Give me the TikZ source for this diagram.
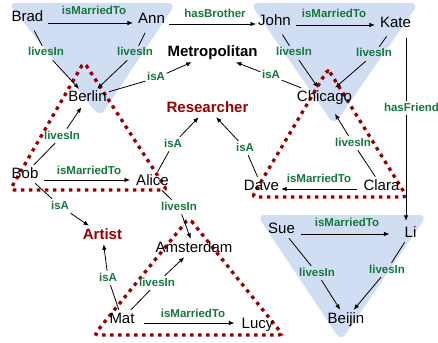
\documentclass[tikz,border=0pt]{standalone}
\usepackage{fontspec}
\setmainfont{Liberation Sans}
\usetikzlibrary{arrows.meta,calc}
\definecolor{lblgreen}{RGB}{20,120,60}
\definecolor{darkred}{RGB}{150,0,0}
\definecolor{lightblue}{RGB}{208,221,242}
\begin{document}
\begin{tikzpicture}[x=1pt,y=-1pt,
  ent/.style={font=\fontsize{15}{17}\selectfont, inner sep=2pt, text height=11pt, text depth=3pt},
  cat/.style={font=\bfseries\fontsize{15}{17}\selectfont, inner sep=2pt, text height=11pt, text depth=3pt},
  lab/.style={font=\bfseries\fontsize{11.5}{13}\selectfont, text=lblgreen, inner sep=1.5pt, text height=8.5pt, text depth=2.5pt},
  arr/.style={-{Latex[length=5.5pt,width=4.5pt]}, line width=0.8pt},
  ln/.style={line width=0.8pt},
  tri/.style={fill=lightblue, rounded corners=8pt},
  grp/.style={draw=darkred, line width=3.3pt, dash pattern=on 3.5pt off 4.5pt, rounded corners=4pt}]
\useasboundingbox (0,0) rectangle (438,342);

% blue groups
\path[tri] (8,3) -- (176,3) -- (100,117) -- cycle;
\path[tri] (250,3) -- (419,3) -- (334,125) -- cycle;
\path[tri] (257,215) -- (427,215) -- (341,341) -- cycle;

% red dotted groups
\draw[grp] (84,62) -- (167,190) -- (10,190) -- cycle;
\draw[grp] (328,69) -- (407,197) -- (252,197) -- cycle;
\draw[grp] (189,218) -- (283,335) -- (94,335) -- cycle;

% entities
\node[ent] (brad) at (27.5,18) {Brad};
\node[ent] (ann) at (151.5,20) {Ann};
\node[ent] (john) at (274.5,22) {John};
\node[ent] (kate) at (395.5,24) {Kate};
\node[cat] (metro) at (212.5,53) {Metropolitan};
\node[ent] (berlin) at (87.5,98) {Berlin};
\node[ent] (chicago) at (324.5,97) {Chicago};
\node[cat,text=darkred] (res) at (207.5,108) {Researcher};
\node[ent] (bob) at (25,174) {Bob};
\node[ent] (alice) at (152.5,181) {Alice};
\node[ent] (dave) at (261.5,186) {Dave};
\node[ent] (clara) at (381.5,186) {Clara};
\node[cat,text=darkred] (artist) at (102.5,235) {Artist};
\node[ent] (amst) at (194,248) {Amsterdam};
\node[ent] (sue) at (281.5,229) {Sue};
\node[ent] (li) at (410.5,233) {Li};
\node[ent] (beijin) at (346,319) {Beijin};
\node[ent] (mat) at (122,319) {Mat};
\node[ent] (lucy) at (257.5,324) {Lucy};

% horizontal relations
\node[lab] (m1) at (94,12) {isMarriedTo};
\draw[arr] ([xshift=2pt]brad.east |- 0,23) -- ([xshift=-3pt]ann.west |- 0,23);
\node[lab] (hb) at (215,15) {hasBrother};
\draw[arr] ([xshift=2pt]ann.east |- 0,24) -- (john.west |- 0,24);
\node[lab] (m2) at (334,15) {isMarriedTo};
\draw[arr] ([xshift=3pt]john.east |- 0,25) -- ([xshift=-3pt]kate.west |- 0,25);
\node[lab] (m3) at (89,171) {isMarriedTo};
\draw[arr] ([xshift=3pt]bob.east |- 0,180) -- ([xshift=-4pt]alice.west |- 0,180);
\node[lab] (m4) at (319,179) {isMarriedTo};
\draw[arr] ([xshift=-4pt]clara.west |- 0,189) -- (dave.east |- 0,189);
\node[lab] (m5) at (193,314) {isMarriedTo};
\draw[arr] ([xshift=7pt]mat.east |- 0,323) -- ([xshift=-5pt]lucy.west |- 0,323);
\node[lab] (m6) at (347,223) {isMarriedTo};
\draw[arr] ([xshift=4pt]sue.east |- 0,234) -- ([xshift=-13pt]li.west |- 0,234);

% diagonal relations (label splits the line)
\node[lab] (l1) at (46,53) {livesIn};
\draw[ln,shorten <=4pt] (brad) -- (l1); \draw[arr] (l1) -- (berlin);
\node[lab] (l2) at (135,53) {livesIn};
\draw[ln,shorten <=4pt] (ann) -- (l2); \draw[arr] (l2) -- (berlin);
\node[lab] (l3) at (294,53) {livesIn};
\draw[ln,shorten <=4pt] (john) -- (l3); \draw[arr] (l3) -- (chicago);
\node[lab] (l4) at (374,54) {livesIn};
\draw[ln,shorten <=4pt] (kate) -- (l4); \draw[arr] (l4) -- (chicago);
\node[lab] (l5) at (156,78) {isA};
\draw[ln] (berlin) -- (l5); \draw[arr] (l5) -- (metro);
\node[lab] (l6) at (271,76) {isA};
\draw[ln] (chicago) -- (l6); \draw[arr] (l6) -- (metro);
\node[lab] (l7) at (411.5,108) {hasFriend};
\coordinate (kf) at (406,38);
\draw[ln] (kf) -- (kf |- l7.north); \draw[arr] (kf |- l7.south) -- ([yshift=3pt]kf |- li.north);
\node[lab] (l8) at (62,136) {livesIn};
\draw[ln] (bob) -- (l8); \draw[arr] (l8) -- (berlin);
\node[lab] (l9) at (173,144) {isA};
\draw[ln] (alice) -- (l9); \draw[arr] (l9) -- (res);
\node[lab] (l10) at (245,148) {isA};
\draw[ln] (dave) -- (l10); \draw[arr] (l10) -- (res);
\node[lab] (l11) at (353,143) {livesIn};
\draw[ln] (clara) -- (l11); \draw[arr,shorten >=9pt] (l11) -- (chicago);
\node[lab] (l12) at (60,206) {isA};
\draw[ln] (bob) -- (l12); \draw[arr] (l12) -- (artist);
\node[lab] (l13) at (179,207) {livesIn};
\draw[ln] (alice) -- (l13); \draw[arr] (l13) -- (amst);
\node[lab] (l14) at (108,278) {isA};
\draw[ln] (mat) -- (l14); \draw[arr] (l14) -- (artist);
\node[lab] (l15) at (157,283) {livesIn};
\draw[ln] (mat) -- (l15); \draw[arr] (l15) -- (amst);
\node[lab] (l16) at (317,273) {livesIn};
\draw[ln] (sue) -- (l16); \draw[arr] (l16) -- (beijin);
\node[lab] (l17) at (387,270) {livesIn};
\draw[ln] (li) -- (l17); \draw[arr] (l17) -- (beijin);
\end{tikzpicture}
\end{document}
